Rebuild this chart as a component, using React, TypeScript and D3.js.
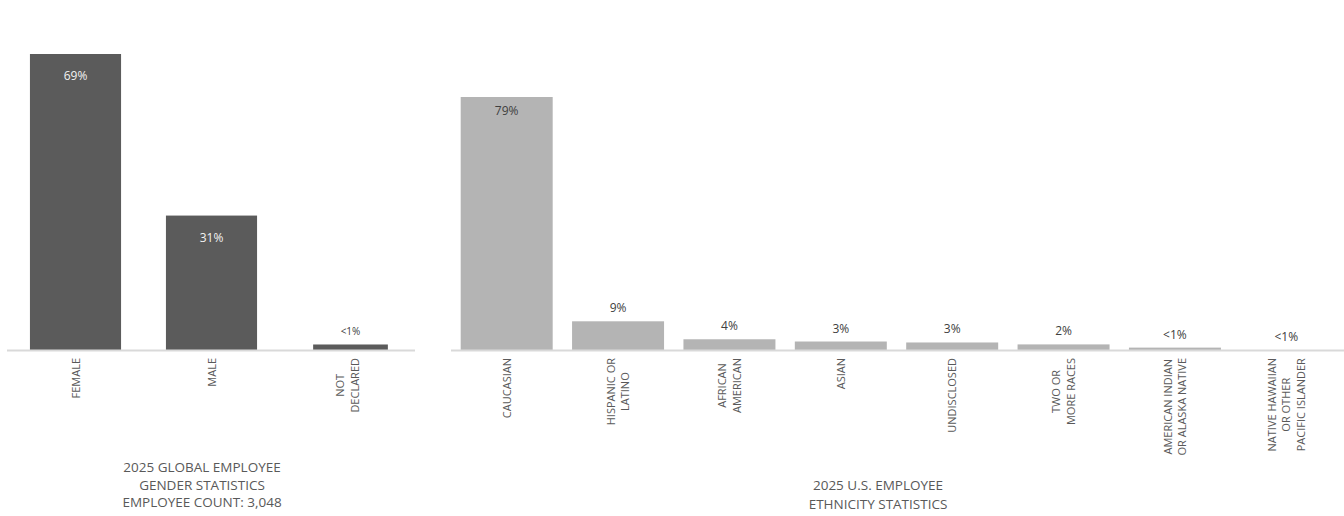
import React, { useEffect, useRef } from "react";
import * as d3 from "d3";

const genderCategories = [["FEMALE"], ["MALE"], ["NOT", "DECLARED"]];
const genderValues = [69, 31.4, 1.4];
const genderLabels = ["69%", "31%", "<1%"];
const genderTitle = ["2025 GLOBAL EMPLOYEE", "GENDER STATISTICS", "EMPLOYEE COUNT: 3,048"];

const ethnicityCategories = [
  ["CAUCASIAN"],
  ["HISPANIC OR", "LATINO"],
  ["AFRICAN", "AMERICAN"],
  ["ASIAN"],
  ["UNDISCLOSED"],
  ["TWO OR", "MORE RACES"],
  ["AMERICAN INDIAN", "OR ALASKA NATIVE"],
  ["NATIVE HAWAIIAN", "OR OTHER", "PACIFIC ISLANDER"],
];
const ethnicityValues = [79, 9.1, 3.5, 2.8, 2.5, 1.9, 0.9, 0.1];
const ethnicityLabels = ["79%", "9%", "4%", "3%", "3%", "2%", "<1%", "<1%"];
const ethnicityTitle = ["2025 U.S. EMPLOYEE", "ETHNICITY STATISTICS"];

const FONT = "'Open Sans', 'Noto Sans', sans-serif";
const TEXT = "#595959";

export default function App() {
  const ref = useRef<SVGSVGElement>(null);

  useEffect(() => {
    const svg = d3.select(ref.current);
    svg.selectAll("*").remove();
    const baseY = 350.5;

    function drawChart(opts: {
      cats: string[][];
      values: number[];
      labels: string[];
      x0: number;
      x1: number;
      axisX0: number;
      axisX1: number;
      yMax: number;
      yTop: number;
      pad: number;
      color: string;
      insideFirst: number;
      insideColor: string;
      insideOffset: number;
      outsideSize: number;
      lastBarRatio: number;
      title: string[];
      titleX: number;
      titleY: number;
      titleStep: number;
    }) {
      const g = svg.append("g");
      const n = opts.cats.length;
      const x = d3
        .scaleBand<number>()
        .domain(d3.range(n))
        .range([opts.x0, opts.x1])
        .paddingInner(opts.pad)
        .paddingOuter(opts.pad / 2);
      const y = d3.scaleLinear().domain([0, opts.yMax]).range([baseY, opts.yTop]);
      const bw = (i: number) => x.bandwidth() * (i === n - 1 ? opts.lastBarRatio : 1);
      const cxOf = (i: number) => x(i)! + x.bandwidth() / 2 + (i === n - 1 && opts.lastBarRatio < 1 ? 3 : 0);

      g.selectAll("rect.bar")
        .data(opts.values)
        .join("rect")
        .attr("class", "bar")
        .attr("x", (_, i) => cxOf(i) - bw(i) / 2)
        .attr("width", (_, i) => bw(i))
        .attr("y", (d) => y(d))
        .attr("height", (d) => baseY - y(d))
        .attr("fill", opts.color);

      g.append("line")
        .attr("x1", opts.axisX0)
        .attr("x2", opts.axisX1)
        .attr("y1", baseY)
        .attr("y2", baseY)
        .attr("stroke", "#d9d9d9")
        .attr("stroke-width", 2);

      opts.values.forEach((v, i) => {
        const cx = cxOf(i);
        const inside = i < opts.insideFirst;
        g.append("text")
          .attr("x", cx)
          .attr("y", inside ? y(v) + opts.insideOffset : y(v) - 9)
          .attr("text-anchor", "middle")
          .attr("font-family", FONT)
          .attr("font-size", inside ? 12 : opts.outsideSize)
          .attr("fill", inside ? opts.insideColor : "#404040")
          .text(opts.labels[i]);
      });

      opts.cats.forEach((lines, i) => {
        const cx = x(i)! + x.bandwidth() / 2;
        const lg = g.append("g").attr("transform", `translate(${cx},${baseY + 7.5}) rotate(-90)`);
        const texts = lines.map((line, j) =>
          lg
            .append("text")
            .attr("font-family", FONT)
            .attr("font-size", 11)
            .attr("fill", TEXT)
            .attr("text-anchor", "middle")
            .attr("y", (j - (lines.length - 1) / 2) * 14.5 + 4)
            .text(line)
        );
        const maxLen = d3.max(texts, (t) => (t.node() as SVGTextElement).getComputedTextLength()) || 0;
        texts.forEach((t) => t.attr("x", -maxLen / 2));
      });

      opts.title.forEach((line, j) => {
        g.append("text")
          .attr("x", opts.titleX)
          .attr("y", opts.titleY + j * opts.titleStep)
          .attr("text-anchor", "middle")
          .attr("font-family", FONT)
          .attr("font-size", 13.5)
          .attr("fill", TEXT)
          .text(line);
      });
    }

    drawChart({
      cats: genderCategories,
      values: genderValues,
      labels: genderLabels,
      x0: 7.5,
      x1: 415.5,
      axisX0: 7,
      axisX1: 415,
      yMax: 69,
      yTop: 54,
      pad: 0.33,
      color: "#5b5b5b",
      insideFirst: 2,
      insideColor: "#f2f2f2",
      insideOffset: 26,
      outsideSize: 10,
      lastBarRatio: 0.82,
      title: genderTitle,
      titleX: 202,
      titleY: 472,
      titleStep: 17.5,
    });

    drawChart({
      cats: ethnicityCategories,
      values: ethnicityValues,
      labels: ethnicityLabels,
      x0: 451,
      x1: 1342,
      axisX0: 451,
      axisX1: 1344,
      yMax: 79,
      yTop: 97,
      pad: 0.174,
      color: "#b4b4b4",
      insideFirst: 1,
      insideColor: "#404040",
      insideOffset: 18,
      outsideSize: 12,
      lastBarRatio: 1,
      title: ethnicityTitle,
      titleX: 878,
      titleY: 490,
      titleStep: 19,
    });
  }, []);

  return (
    <div style={{ position: "absolute", left: 0, top: 0 }}>
      <svg ref={ref} width={1344} height={516} style={{ display: "block", background: "#fff" }} />
    </div>
  );
}
